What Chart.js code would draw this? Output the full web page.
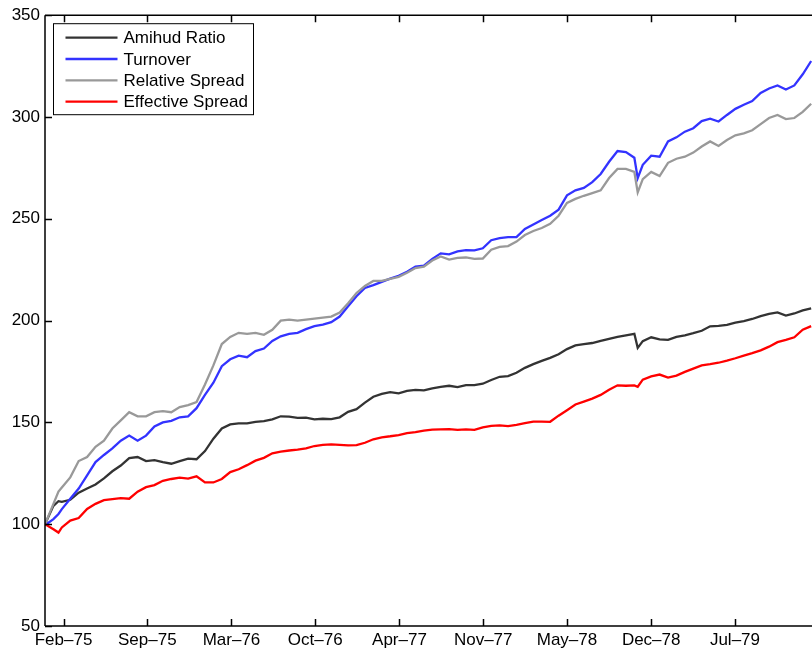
<!DOCTYPE html>
<html><head><meta charset="utf-8">
<script src="https://cdn.jsdelivr.net/npm/chart.js@4/dist/chart.umd.min.js"></script>
<style>html,body{margin:0;padding:0;background:#fff}#wrap{width:812px;height:655px;position:relative}</style>
</head><body><div id="wrap"><canvas id="c" width="812" height="655"></canvas></div>
<script>
// x: days since start of sample
const days = [0,20,32,40,60,80,100,120,140,160,180,200,220,240,260,280,300,320,340,360,380,400,420,440,460,480,500,520,540,560,580,600,620,640,660,680,700,720,740,760,780,800,820,840,860,880,900,920,940,960,980,1000,1020,1040,1060,1080,1100,1120,1140,1160,1180,1200,1220,1240,1260,1280,1300,1320,1340,1360,1380,1400,1408,1420,1440,1460,1480,1500,1520,1540,1560,1580,1600,1620,1640,1660,1680,1700,1720,1740,1760,1780,1800,1820];

const amihudRatio = [100,109,111.3,111,112,115.5,117.5,119.5,122.5,126,128.8,132.5,133,131,131.5,130.5,129.7,131,132.2,131.9,135.9,142,147,149,149.5,149.5,150.3,150.6,151.5,153,152.8,152.2,152.3,151.5,151.8,151.6,152.5,155.2,156.5,159.7,162.6,164,164.9,164.3,165.5,166,165.7,166.7,167.5,168,167.3,168.3,168.3,169,170.8,172.4,172.7,174.4,176.8,178.6,180.2,181.7,183.5,186,187.8,188.5,189,190,191,192,192.8,193.5,186.6,189.9,191.8,190.8,190.5,192,192.8,193.8,195,197.2,197.4,197.9,199,199.8,200.8,202.2,203.3,204,202.5,203.5,205,206];

const turnover = [99.5,102.5,105,107.4,112.5,117.5,124,130.5,134,137.2,141,143.5,141,143.5,148,150,150.8,152.5,153,157,163.5,169.5,177.6,181,182.8,182,185,186.3,190,192.3,193.5,194,195.8,197.3,198,199.2,202,207,212,216,217.4,219,220.6,222,224,226.5,227,230.3,233,232.5,234,234.6,234.5,235.5,239.5,240.5,241,241,245,247.2,249.4,251.5,254.5,261.5,264,265.2,268,272,278,283.3,282.8,280,270,276.5,281,280.5,288,290,292.8,294.5,298,299.2,297.8,301,304,306,307.8,311.8,314,315.5,313.5,315.5,321,327.5];

const relativeSpread = [100,110,116,118,123,131,133,138,141,147,151,155,153,153,155,155.5,155,157.5,158.5,160,168.6,178,188.5,192,194,193.5,194,193,195.5,200,200.5,200,200.5,201,201.5,202,204,208.5,213.5,217,219.5,219.5,220.5,221.5,223.5,225.8,226.5,229.5,231.5,230,230.8,231,230.3,230.5,234.8,236.2,236.6,238.8,242,244,245.5,247.5,251.5,257.8,259.8,261.3,262.6,264,270,274.5,274.5,273,263,269.5,273,271,277.5,279.5,280.5,282.5,285.5,288,285.8,288.7,291,292,293.5,296.5,299.5,301,299,299.5,302.5,306.5];

const effectiveSpread = [100,97.5,95.9,98.4,101.8,103,107.5,110,111.8,112.3,112.8,112.5,116,118.2,119.2,121.3,122.2,122.9,122.4,123.5,120.5,120.5,122.2,125.6,127,129,131.2,132.6,134.8,135.6,136.2,136.6,137.2,138.4,139,139.2,139,138.7,138.8,140,141.7,142.7,143.2,143.8,144.7,145.2,146,146.5,146.6,146.7,146.3,146.6,146.3,147.6,148.3,148.5,148.2,148.8,149.6,150.4,150.4,150.3,153.3,156,158.8,160.2,161.7,163.5,166,168.2,168,168.2,167.5,171,172.6,173.5,172,173,174.8,176.4,178,178.6,179.3,180.3,181.5,182.8,184,185.4,187.2,189.4,190.5,191.8,195.5,197.3];

const seriesNames = ['Amihud Ratio','Turnover','Relative Spread','Effective Spread'];
const seriesColors = ['#333333','#3333ff','#999999','#ff0000'];
const tickDays = [44,243,443,642,842,1041,1240,1440,1639];
const tickLabels = ['Feb–75','Sep–75','Mar–76','Oct–76','Apr–77','Nov–77','May–78','Dec–78','Jul–79'];
const yTicks = [50,100,150,200,250,300,350];

const FONT = {family:'"Liberation Sans", Arial, Helvetica, sans-serif', size:17};
const allSeries = [amihudRatio, turnover, relativeSpread, effectiveSpread];

const datasets = allSeries.map((vals, k) => ({
  label: seriesNames[k],
  data: vals.map((v, i) => ({x: days[i], y: v})),
  borderColor: seriesColors[k],
  backgroundColor: seriesColors[k],
  borderWidth: 2.3,
  pointRadius: 0,
  tension: 0,
  fill: false,
  order: 3 - k
}));

const framePlugin = {
  id: 'frame',
  afterDatasetsDraw(chart) {
    const {ctx, chartArea: a, scales} = chart;
    ctx.save();
    ctx.strokeStyle = '#000';
    ctx.lineWidth = 1.5;
    ctx.beginPath();
    ctx.moveTo(a.left, a.top); ctx.lineTo(a.right + 2, a.top);
    ctx.moveTo(a.left, a.top); ctx.lineTo(a.left, a.bottom);
    ctx.moveTo(a.left, a.bottom); ctx.lineTo(a.right + 2, a.bottom);
    const tl = 7;
    tickDays.forEach(d => {
      const x = Math.round(scales.x.getPixelForValue(d)) + 0.5;
      ctx.moveTo(x, a.bottom); ctx.lineTo(x, a.bottom - tl);
      ctx.moveTo(x, a.top); ctx.lineTo(x, a.top + tl);
    });
    yTicks.forEach(v => {
      const y = Math.round(scales.y.getPixelForValue(v)) + 0.5;
      ctx.moveTo(a.left, y); ctx.lineTo(a.left + tl, y);
    });
    ctx.stroke();

    // legend
    const bx = a.left + 8.5, by = a.top + 8.5, bw = 200, bh = 91;
    ctx.fillStyle = '#fff';
    ctx.fillRect(bx, by, bw, bh);
    ctx.lineWidth = 1;
    ctx.strokeRect(bx, by, bw, bh);
    ctx.font = `${FONT.size}px ${FONT.family}`;
    ctx.textBaseline = 'middle';
    ctx.textAlign = 'left';
    chart.data.datasets.forEach((ds, k) => {
      const y = by + 14 + k * 21.3;
      ctx.strokeStyle = ds.borderColor;
      ctx.lineWidth = 2.3;
      ctx.beginPath();
      ctx.moveTo(bx + 12, y); ctx.lineTo(bx + 64, y);
      ctx.stroke();
      ctx.fillStyle = '#000';
      ctx.fillText(ds.label, bx + 70, y + 1);
    });
    ctx.restore();
  }
};

new Chart(document.getElementById('c'), {
  type: 'line',
  data: {datasets},
  options: {
    responsive: false,
    animation: false,
    devicePixelRatio: 1,
    layout: {padding: {top: 15, right: 0, left: 0, bottom: 0}},
    plugins: {legend: {display: false}, tooltip: {enabled: false}},
    scales: {
      x: {
        type: 'linear', min: 0, max: 1822,
        afterBuildTicks: s => { s.ticks = tickDays.map(v => ({value: v})); },
        afterFit: s => { s.height = 29; },
        grid: {display: false, drawTicks: false},
        border: {display: false},
        ticks: {
          autoSkip: false, maxRotation: 0, minRotation: 0, padding: 4,
          color: '#000', font: FONT,
          callback: (v, i) => tickLabels[i]
        }
      },
      y: {
        type: 'linear', min: 50, max: 350,
        afterBuildTicks: s => { s.ticks = yTicks.map(v => ({value: v})); },
        afterFit: s => { s.width = 45; },
        grid: {display: false, drawTicks: false},
        border: {display: false},
        ticks: {padding: 5, color: '#000', font: FONT, callback: v => String(v)}
      }
    }
  },
  plugins: [framePlugin]
});
</script>
</body></html>
